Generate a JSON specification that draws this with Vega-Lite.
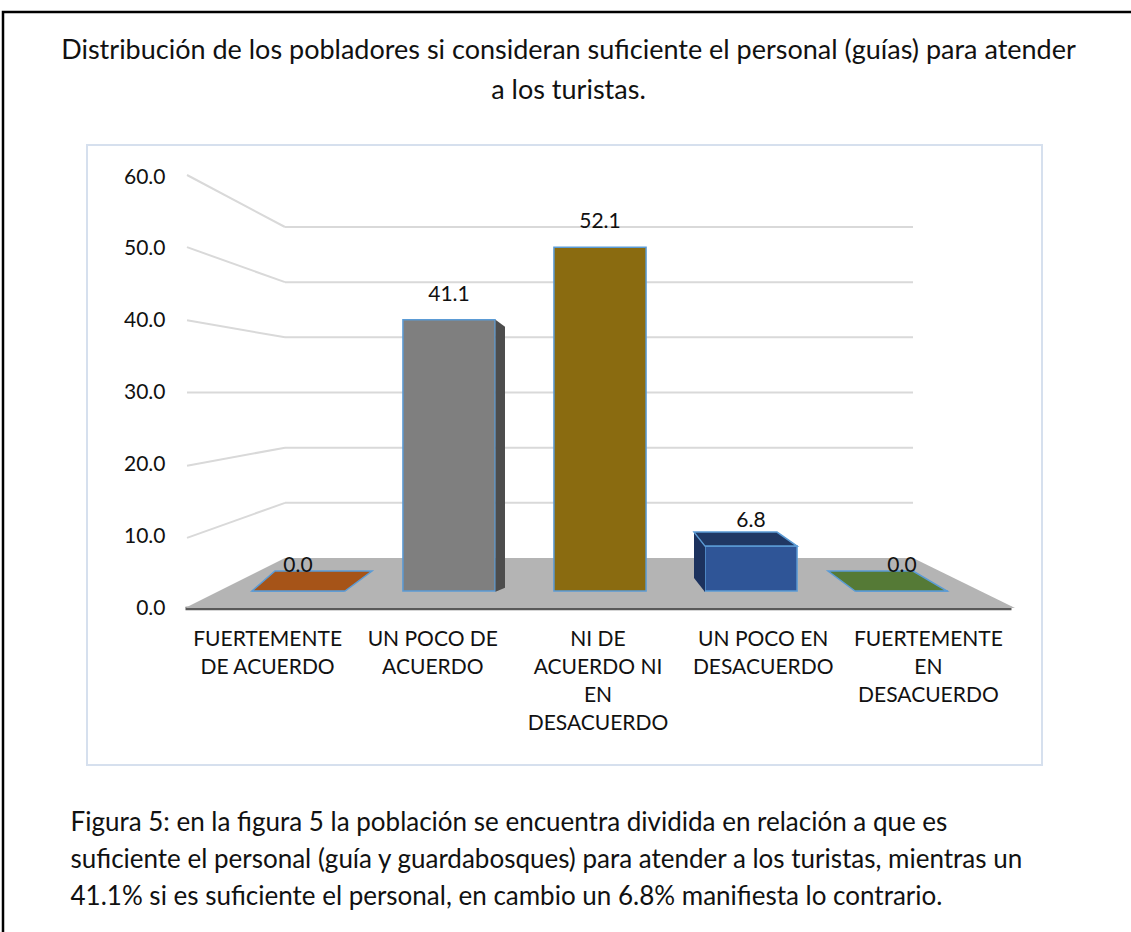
{
  "$schema": "https://vega.github.io/schema/vega-lite/v6.json",
  "width": 955,
  "height": 620,
  "autosize": {"type": "none"},
  "padding": {"left": 87, "top": 145, "right": 89, "bottom": 167},
  "background": "white",
  "config": {"view": {"stroke": "#d6e0ee", "strokeWidth": 2}, "font": "Lato"},
  "title": {
    "text": ["Distribución de los pobladores si consideran suficiente el personal (guías) para atender", "a los turistas."],
    "font": "Lato", "fontSize": 27, "fontWeight": "normal", "color": "#111111",
    "anchor": "middle", "frame": "group", "lineHeight": 40, "baseline": "bottom", "offset": -121, "dx": 4
  },
  "datasets": {
    "respuestas": [
      {"categoria": "FUERTEMENTE\nDE ACUERDO", "porcentaje": 0.0},
      {"categoria": "UN POCO DE\nACUERDO", "porcentaje": 41.1},
      {"categoria": "NI DE\nACUERDO NI\nEN\nDESACUERDO", "porcentaje": 52.1},
      {"categoria": "UN POCO EN\nDESACUERDO", "porcentaje": 6.8},
      {"categoria": "FUERTEMENTE\nEN\nDESACUERDO", "porcentaje": 0.0}
    ],
    "marcas": [{"v": 10}, {"v": 20}, {"v": 30}, {"v": 40}, {"v": 50}, {"v": 60}],
    "decoracion": [{}]
  },
  "data": {"name": "respuestas"},
  "layer": [
    {
      "data": {"name": "decoracion"},
      "mark": {"type": "rect", "filled": false, "stroke": "#000000", "strokeWidth": 2.5},
      "encoding": {
        "x": {"datum": 0, "type": "quantitative", "scale": {"domain": [0, 1], "range": [-84, 1100], "nice": false, "zero": false}, "axis": null},
        "x2": {"datum": 1},
        "y": {"datum": 0, "type": "quantitative", "scale": {"domain": [0, 1], "range": [-133, 850], "nice": false, "zero": false}, "axis": null},
        "y2": {"datum": 1}
      }
    },
    {
      "data": {"name": "marcas"},
      "mark": {"type": "rule", "color": "#d9d9d9", "strokeWidth": 2},
      "encoding": {
        "y": {"field": "v", "type": "quantitative", "scale": {"domain": [0, 60], "range": [413, 82], "nice": false, "zero": false}, "axis": null},
        "x": {"datum": 0, "type": "quantitative", "scale": {"domain": [0, 1], "range": [198, 826], "nice": false, "zero": false}, "axis": null},
        "x2": {"datum": 1}
      }
    },
    {
      "data": {"name": "marcas"},
      "mark": {"type": "point", "filled": false, "size": 10000, "stroke": "#d9d9d9", "strokeWidth": 2, "opacity": 1},
      "encoding": {
        "y": {"field": "v", "type": "quantitative", "scale": {"domain": [0, 60], "range": [413, 82], "nice": false, "zero": false}, "axis": null},
        "x": {"datum": 0, "type": "quantitative", "scale": {"domain": [0, 1], "range": [198, 826], "nice": false, "zero": false}, "axis": null},
        "shape": {"field": "v", "type": "ordinal", "scale": {"domain": [10, 20, 30, 40, 50, 60], "range": ["M0,0L-1.96,0.7", "M0,0L-1.96,0.36", "M0,0L-1.96,0", "M0,0L-1.96,-0.34", "M0,0L-1.96,-0.7", "M0,0L-1.96,-1.04"]}, "legend": null}
      }
    },
    {
      "data": {"name": "decoracion"},
      "mark": {"type": "point", "filled": true, "shape": "M-4.15,0.17L4.15,0.17L3.13,-0.33L-3.15,-0.33Z", "size": 40000, "color": "#b4b4b4", "opacity": 1, "strokeWidth": 0},
      "encoding": {
        "x": {"datum": "NI DE\nACUERDO NI\nEN\nDESACUERDO", "type": "nominal", "scale": {"type": "band", "domain": ["FUERTEMENTE\nDE ACUERDO", "UN POCO DE\nACUERDO", "NI DE\nACUERDO NI\nEN\nDESACUERDO", "UN POCO EN\nDESACUERDO", "FUERTEMENTE\nEN\nDESACUERDO"], "range": [135.5, 890.5], "paddingInner": 0.39, "paddingOuter": 0.195}, "axis": null},
        "y": {"datum": 0, "type": "quantitative", "scale": {"domain": [0, 60], "range": [446, 50], "nice": false, "zero": false}, "axis": null}
      }
    },
    {
      "mark": {"type": "point", "opacity": 0},
      "encoding": {
        "x": {
          "field": "categoria", "type": "nominal", "sort": null,
          "scale": {"type": "band", "domain": ["FUERTEMENTE\nDE ACUERDO", "UN POCO DE\nACUERDO", "NI DE\nACUERDO NI\nEN\nDESACUERDO", "UN POCO EN\nDESACUERDO", "FUERTEMENTE\nEN\nDESACUERDO"], "range": [98, 924], "paddingInner": 0, "paddingOuter": 0},
          "axis": {
            "orient": "bottom", "offset": -157, "domain": true, "domainColor": "#595959", "domainWidth": 3.5,
            "ticks": false, "tickSize": 0, "grid": false, "labelPadding": 20,
            "labelFont": "Lato", "labelFontSize": 21, "labelColor": "#111111", "labelLineHeight": 28,
            "labelAngle": 0, "labelBaseline": "top", "labelOverlap": false, "labelLimit": 0,
            "labelExpr": "split(datum.label, '\\n')",
            "title": ["Figura 5: en la figura 5 la población se encuentra dividida en relación a que es", "suficiente el personal (guía y guardabosques) para atender a los turistas, mientras un", "41.1% si es suficiente el personal, en cambio un 6.8% manifiesta lo contrario."],
            "titleFont": "Lato", "titleFontSize": 26, "titleFontWeight": "normal", "titleColor": "#111111",
            "titleAlign": "left", "titleAnchor": "start", "titleBaseline": "top", "titleLineHeight": 37,
            "titleX": -17, "titleY": 201, "titleAngle": 0
          }
        },
        "y": {
          "datum": 0, "type": "quantitative",
          "scale": {"domain": [0, 60], "range": [463, 32], "nice": false, "zero": false},
          "axis": {
            "orient": "left", "offset": -78, "values": [0, 10, 20, 30, 40, 50, 60], "format": ".1f",
            "domain": false, "ticks": false, "tickSize": 0, "grid": false, "labelPadding": 0,
            "labelFont": "Lato", "labelFontSize": 21, "labelColor": "#111111", "title": null
          }
        }
      }
    },
    {
      "mark": {"type": "bar", "stroke": "#5b9bd5", "strokeWidth": 1.5},
      "encoding": {
        "x": {"field": "categoria", "type": "nominal", "sort": null, "scale": {"type": "band", "domain": ["FUERTEMENTE\nDE ACUERDO", "UN POCO DE\nACUERDO", "NI DE\nACUERDO NI\nEN\nDESACUERDO", "UN POCO EN\nDESACUERDO", "FUERTEMENTE\nEN\nDESACUERDO"], "range": [135.5, 890.5], "paddingInner": 0.39, "paddingOuter": 0.195}, "axis": null},
        "y": {"field": "porcentaje", "type": "quantitative", "scale": {"domain": [0, 60], "range": [446, 50], "nice": false, "zero": false}, "axis": null},
        "color": {"field": "categoria", "type": "nominal", "sort": null, "scale": {"domain": ["FUERTEMENTE\nDE ACUERDO", "UN POCO DE\nACUERDO", "NI DE\nACUERDO NI\nEN\nDESACUERDO", "UN POCO EN\nDESACUERDO", "FUERTEMENTE\nEN\nDESACUERDO"], "range": ["#9e480e", "#7f7f7f", "#8a6b10", "#2f5597", "#548235"]}, "legend": null}
      }
    },
    {
      "transform": [{"filter": {"field": "categoria", "oneOf": ["UN POCO DE\nACUERDO", "UN POCO EN\nDESACUERDO"]}}],
      "mark": {"type": "point", "filled": true, "size": 10000, "opacity": 1, "strokeWidth": 0},
      "encoding": {
        "x": {"field": "categoria", "type": "nominal", "sort": null, "scale": {"type": "band", "domain": ["FUERTEMENTE\nDE ACUERDO", "UN POCO DE\nACUERDO", "NI DE\nACUERDO NI\nEN\nDESACUERDO", "UN POCO EN\nDESACUERDO", "FUERTEMENTE\nEN\nDESACUERDO"], "range": [135.5, 890.5], "paddingInner": 0.39, "paddingOuter": 0.195}, "axis": null},
        "y": {"field": "porcentaje", "type": "quantitative", "scale": {"domain": [0, 60], "range": [446, 50], "nice": false, "zero": false}, "axis": null},
        "shape": {"field": "categoria", "type": "nominal", "scale": {"domain": ["UN POCO DE\nACUERDO", "UN POCO EN\nDESACUERDO"], "range": ["M0.93,0L1.12,0.14L1.12,5.36L0.93,5.44Z", "M-0.92,0L-1.14,-0.28L-1.14,0.64L-0.92,0.92Z"]}, "legend": null},
        "color": {"field": "categoria", "type": "nominal", "scale": {"domain": ["UN POCO DE\nACUERDO", "UN POCO EN\nDESACUERDO"], "range": ["#4d4d4d", "#1c325e"]}, "legend": null}
      }
    },
    {
      "transform": [{"filter": {"field": "porcentaje", "lt": 10}}],
      "mark": {"type": "point", "filled": true, "size": 10000, "opacity": 1, "stroke": "#5b9bd5", "strokeWidth": 1.5},
      "encoding": {
        "x": {"field": "categoria", "type": "nominal", "sort": null, "scale": {"type": "band", "domain": ["FUERTEMENTE\nDE ACUERDO", "UN POCO DE\nACUERDO", "NI DE\nACUERDO NI\nEN\nDESACUERDO", "UN POCO EN\nDESACUERDO", "FUERTEMENTE\nEN\nDESACUERDO"], "range": [135.5, 890.5], "paddingInner": 0.39, "paddingOuter": 0.195}, "axis": null},
        "y": {"field": "porcentaje", "type": "quantitative", "scale": {"domain": [0, 60], "range": [446, 50], "nice": false, "zero": false}, "axis": null},
        "shape": {"field": "categoria", "type": "nominal", "scale": {"domain": ["FUERTEMENTE\nDE ACUERDO", "UN POCO EN\nDESACUERDO", "FUERTEMENTE\nEN\nDESACUERDO"], "range": ["M-0.92,0L0.94,0L1.48,-0.4L-0.46,-0.4Z", "M-0.92,0L0.92,0L0.52,-0.28L-1.14,-0.28Z", "M-0.94,0L0.9,0L0.22,-0.4L-1.48,-0.4Z"]}, "legend": null},
        "color": {"field": "categoria", "type": "nominal", "scale": {"domain": ["FUERTEMENTE\nDE ACUERDO", "UN POCO EN\nDESACUERDO", "FUERTEMENTE\nEN\nDESACUERDO"], "range": ["#a65418", "#203864", "#557a36"]}, "legend": null}
      }
    },
    {
      "mark": {"type": "text", "dy": -25, "font": "Lato", "fontSize": 21, "color": "#111111", "baseline": "middle"},
      "encoding": {
        "x": {"field": "categoria", "type": "nominal", "sort": null, "scale": {"type": "band", "domain": ["FUERTEMENTE\nDE ACUERDO", "UN POCO DE\nACUERDO", "NI DE\nACUERDO NI\nEN\nDESACUERDO", "UN POCO EN\nDESACUERDO", "FUERTEMENTE\nEN\nDESACUERDO"], "range": [135.5, 890.5], "paddingInner": 0.39, "paddingOuter": 0.195}, "axis": null},
        "y": {"field": "porcentaje", "type": "quantitative", "scale": {"domain": [0, 60], "range": [446, 50], "nice": false, "zero": false}, "axis": null},
        "text": {"field": "porcentaje", "type": "quantitative", "format": ".1f"}
      }
    }
  ],
  "resolve": {
    "scale": {"x": "independent", "y": "independent", "color": "independent", "shape": "independent"},
    "axis": {"x": "independent", "y": "independent"}
  }
}
